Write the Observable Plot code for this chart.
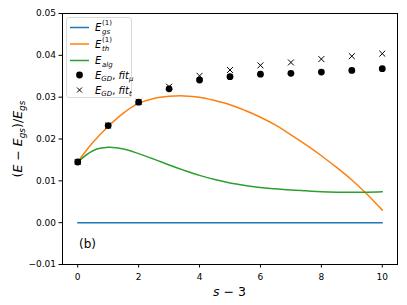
<!DOCTYPE html>
<html><head><meta charset="utf-8">
<script src="https://cdn.jsdelivr.net/npm/d3@7"></script>
<script src="https://cdn.jsdelivr.net/npm/@observablehq/plot@0.6"></script>
<style>
body{margin:0;background:#fff}
svg{font-family:"DejaVu Sans",sans-serif;overflow:visible}
</style>
</head><body><div id="chart"></div>
<script>
// ---- data ----
const sGrid = [0,0.5,1,1.5,2,2.5,3,3.5,4,4.5,5,5.5,6,6.5,7,7.5,8,8.5,9,9.5,10];
const eGs   = [0,0,0,0,0,0,0,0,0,0,0,0,0,0,0,0,0,0,0,0,0];
const eTh   = [0.0145,0.0192,0.0230,0.0262,0.0285,0.0297,0.0302,0.0303,0.0300,0.0292,0.0282,0.0268,0.0252,0.0233,0.0210,0.0186,0.0160,0.0132,0.0102,0.0068,0.0030];
const eAlg  = [0.0145,0.0172,0.0180,0.0176,0.0165,0.0152,0.0138,0.0125,0.0113,0.0103,0.0095,0.0089,0.0084,0.0081,0.0078,0.0076,0.0074,0.0073,0.0073,0.0073,0.0074];
const sFit  = [0,1,2,3,4,5,6,7,8,9,10];
const fitMu = [0.0145,0.0232,0.0288,0.0320,0.0341,0.0349,0.0355,0.0357,0.0360,0.0364,0.0368];
const fitT  = [0.0145,0.0232,0.0289,0.0325,0.0351,0.0365,0.0376,0.0383,0.0391,0.0398,0.0404];
const xTicks = [0,2,4,6,8,10];
const yTicks = [-0.01,0,0.01,0.02,0.03,0.04,0.05];

const colors = {gs:"#1f77b4", th:"#ff7f0e", alg:"#2ca02c"};

const curves = sGrid.map((s,i)=>({s, gs:eGs[i], th:eTh[i], alg:eAlg[i]}));
const fits = sFit.map((s,i)=>({s, mu:fitMu[i], t:fitT[i]}));

const chart = Plot.plot({
  width: 407, height: 305,
  marginTop: 13, marginBottom: 41, marginLeft: 62, marginRight: 10,
  style: {fontFamily: "DejaVu Sans", fontSize: "9px", color: "#000", background: "#fff"},
  x: {domain: [-0.5, 10.5]},
  y: {domain: [-0.01, 0.05]},
  marks: [
    Plot.line(curves, {x:"s", y:"gs", stroke: colors.gs, strokeWidth: 1.5}),
    Plot.line(curves, {x:"s", y:"th", stroke: colors.th, strokeWidth: 1.5, curve: "catmull-rom"}),
    Plot.line(curves, {x:"s", y:"alg", stroke: colors.alg, strokeWidth: 1.5, curve: "catmull-rom"}),
    Plot.dot(fits, {x:"s", y:"mu", r: 3.4, fill: "#000", stroke: "none"}),
    Plot.dot(fits, {x:"s", y:"t", r: 2.8, symbol: "times", stroke: "#000", strokeWidth: 1}),
    Plot.frame({stroke: "#000", strokeWidth: 1}),
    Plot.axisX({ticks: xTicks, tickSize: 3.5, tickPadding: 6, tickFormat: d => String(d), label: null, fontSize: 9}),
    Plot.axisY({ticks: yTicks, tickSize: 3.5, tickPadding: 3, tickFormat: d3.format(".2f"), label: null, fontSize: 9})
  ]
});
document.getElementById("chart").appendChild(chart);

const svg = d3.select(chart);

// legend
const leg = svg.append("g").attr("text-anchor", "start");
leg.append("rect").attr("x", 66.5).attr("y", 17.5).attr("width", 65).attr("height", 80)
  .attr("rx", 2.5).attr("fill", "#fff").attr("fill-opacity", 0.8).attr("stroke", "#d0d0d0").attr("stroke-width", 0.8);
const rows = [27.5, 44, 60.5, 75, 90];
[["gs", colors.gs], ["th", colors.th], ["alg", colors.alg]].forEach(([k, c], i) => {
  leg.append("line").attr("x1", 70).attr("x2", 89).attr("y1", rows[i]).attr("y2", rows[i])
    .attr("stroke", c).attr("stroke-width", 1.5);
});
leg.append("circle").attr("cx", 79.5).attr("cy", rows[3]).attr("r", 3.4).attr("fill", "#000");
leg.append("path").attr("d", `M77,${rows[4]-2.5}L82,${rows[4]+2.5}M77,${rows[4]+2.5}L82,${rows[4]-2.5}`)
  .attr("stroke", "#000").attr("stroke-width", 1);

function eSubSup(y, sub) {
  const t = leg.append("text").attr("y", y).attr("font-size", 10).attr("fill", "#000");
  t.append("tspan").attr("x", 95).attr("font-style", "italic").text("E");
  t.append("tspan").attr("x", 102).attr("dy", 3).attr("font-size", 7).attr("font-style", "italic").text(sub);
  t.append("tspan").attr("x", 102).attr("dy", -9).attr("font-size", 7).text("(1)");
}
eSubSup(rows[0] + 3.5, "gs");
eSubSup(rows[1] + 3.5, "th");
{
  const t = leg.append("text").attr("y", rows[2] + 3.5).attr("font-size", 10).attr("fill", "#000");
  t.append("tspan").attr("x", 95).attr("font-style", "italic").text("E");
  t.append("tspan").attr("x", 102).attr("dy", 2.5).attr("font-size", 7).attr("font-style", "italic").text("alg");
}
function fitLabel(y, sub) {
  const t = leg.append("text").attr("x", 95).attr("y", y).attr("font-size", 10).attr("fill", "#000");
  t.append("tspan").attr("font-style", "italic").text("E");
  t.append("tspan").attr("dy", 2.5).attr("font-size", 7).attr("font-style", "italic").text("GD");
  t.append("tspan").attr("dy", -2.5).text(", ");
  t.append("tspan").attr("font-style", "italic").text("fit");
  t.append("tspan").attr("dy", 2.5).attr("font-size", 7).attr("font-style", "italic").text(sub);
}
fitLabel(rows[3] + 3.5, "μ");
fitLabel(rows[4] + 3.5, "t");

// y axis label
{
  const t = svg.append("text").attr("transform", "translate(22,139) rotate(-90)")
    .attr("text-anchor", "middle").attr("font-size", 12.5).attr("fill", "#000");
  t.append("tspan").text("(");
  t.append("tspan").attr("font-style", "italic").text("E");
  t.append("tspan").text(" − ");
  t.append("tspan").attr("font-style", "italic").text("E");
  t.append("tspan").attr("dy", 3).attr("font-size", 9).attr("font-style", "italic").text("gs");
  t.append("tspan").attr("dy", -3).text(")/");
  t.append("tspan").attr("font-style", "italic").text("E");
  t.append("tspan").attr("dy", 3).attr("font-size", 9).attr("font-style", "italic").text("gs");
}
// x axis label
{
  const t = svg.append("text").attr("x", 229.5).attr("y", 296)
    .attr("text-anchor", "middle").attr("font-size", 12.5).attr("fill", "#000");
  t.append("tspan").attr("font-style", "italic").text("s");
  t.append("tspan").text(" − 3");
}
// panel tag
svg.append("text").attr("x", 79).attr("y", 247.5).attr("text-anchor", "start")
  .attr("font-size", 12).attr("fill", "#000").text("(b)");
</script>
</body></html>
